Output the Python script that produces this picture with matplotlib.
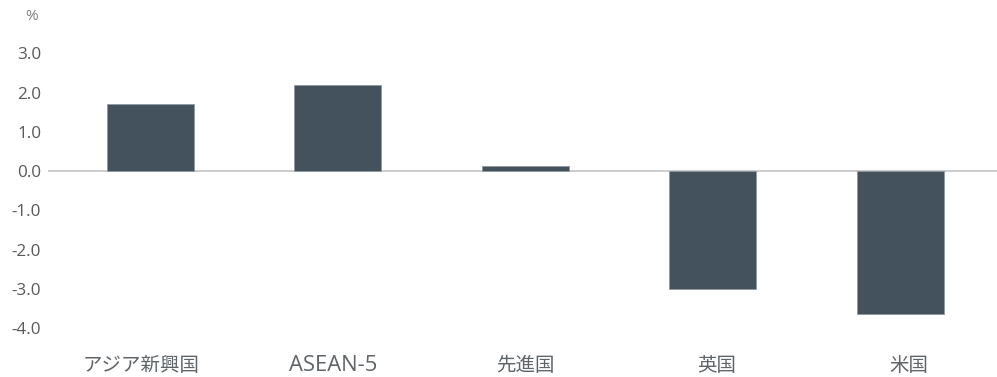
import matplotlib
matplotlib.use("Agg")
import matplotlib.pyplot as plt

plt.rcParams['font.family'] = ['Open Sans', 'Noto Sans CJK JP', 'DejaVu Sans']

categories = ["アジア新興国", "ASEAN-5", "先進国", "英国", "米国"]
values = [1.7, 2.2, 0.13, -3.0, -3.65]
yticks = [3.0, 2.0, 1.0, 0.0, -1.0, -2.0, -3.0, -4.0]
ytick_labels = ["3.0", "2.0", "1.0", "0.0", "-1.0", "-2.0", "-3.0", "-4.0"]

W, H = 997, 377
fig = plt.figure(figsize=(W / 100, H / 100), dpi=100)
ylo, yhi = -4.3, 3.3
ppu = 39.25
top_px = 171 - yhi * ppu
bot_px = 171 - ylo * ppu
rect = [48 / W, (H - bot_px) / H, (W - 48) / W, (bot_px - top_px) / H]
ax = fig.add_axes(rect)

x = list(range(len(categories)))
ax.bar(x, values, width=0.465, color="#44525d", edgecolor="#8e99a2", linewidth=0.6, zorder=2)
ax.axhline(0, color="#c4c4c4", linewidth=1.2, zorder=1)

ax.set_xlim(-0.547, 4.517)
ax.set_ylim(ylo, yhi)
ax.set_yticks(yticks)
ax.set_yticklabels(ytick_labels)
ax.set_xticks([])
ax.tick_params(axis='y', length=0, pad=5, labelsize=12.3, labelcolor="#5a5a5a")
for s in ax.spines.values():
    s.set_visible(False)

# category labels on a separate (invisible) axis sharing the same box
lab = fig.add_axes(rect, frameon=False)
lab.set_xlim(-0.487, 4.458)
lab.set_ylim(0, 1)
lab.set_yticks([])
lab.set_xticks(x)
lab.set_xticklabels(categories)
lab.tick_params(axis='x', length=0, pad=22.5, labelsize=14, labelcolor="#5f6468")
for t in lab.get_xticklabels():
    t.set_verticalalignment('baseline')
    if t.get_text().isascii():
        t.set_fontsize(15.8)
lab.patch.set_visible(False)

fig.text(32 / W, 1 - 17 / H, "%", ha='center', va='center', fontsize=11, color="#808080")

fig.savefig("out.png", dpi=100, facecolor="white")
